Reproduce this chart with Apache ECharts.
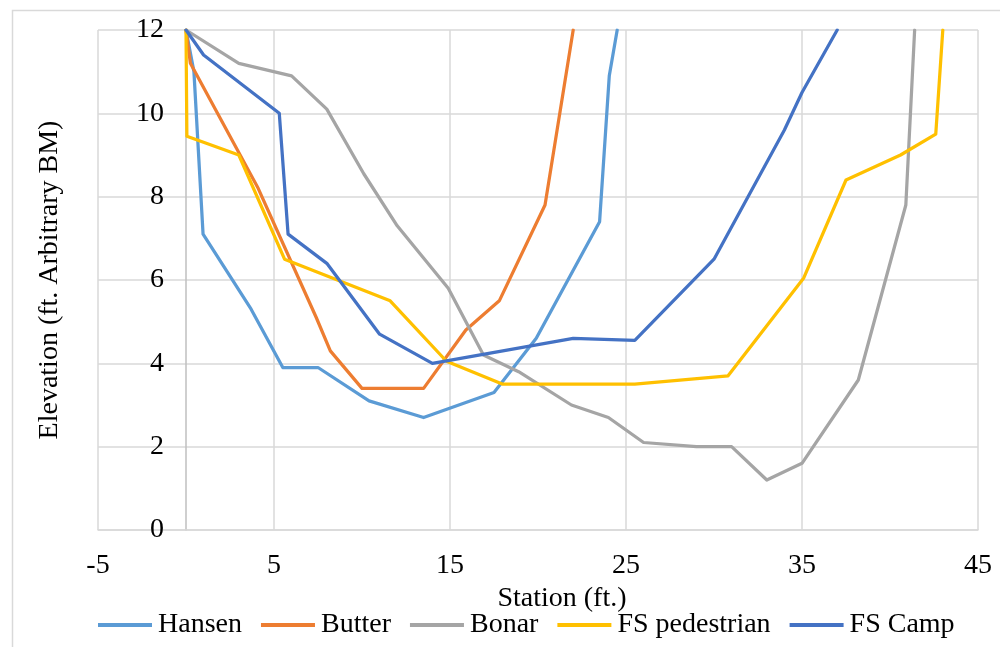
<!DOCTYPE html>
<html>
<head>
<meta charset="utf-8">
<script src="https://cdn.jsdelivr.net/npm/echarts@6/dist/echarts.min.js"></script>
<style>
html,body{margin:0;padding:0;background:#fff;}
#chart{width:1000px;height:647px;}
</style>
</head>
<body>
<div id="chart"></div>
<script>
var seriesNames = ['Hansen', 'Butter', 'Bonar', 'FS pedestrian', 'FS Camp'];
var hansen = [[0,12],[0.45,11.0],[0.97,7.1],[3.7,5.3],[5.5,3.9],[7.5,3.9],[10.4,3.1],[13.5,2.7],[17.5,3.3],[19.9,4.6],[23.5,7.4],[24.05,10.9],[24.5,12]];
var butter = [[0,12],[0.25,11.2],[4.1,8.2],[7.4,5.1],[8.2,4.3],[10,3.4],[13.5,3.4],[15.9,4.8],[17.8,5.5],[20.4,7.8],[22.0,12]];
var bonar = [[0,12],[3.0,11.2],[6.0,10.9],[8.0,10.1],[10.1,8.55],[12.0,7.3],[14.9,5.8],[16.9,4.2],[18.9,3.8],[21.9,3.0],[24.0,2.7],[26.0,2.1],[29.0,2.0],[31.0,2.0],[33.0,1.2],[35.0,1.6],[38.2,3.6],[40.9,7.8],[41.4,12]];
var fsPedestrian = [[0,12],[0.05,9.45],[3.0,9.0],[5.6,6.5],[11.6,5.5],[14.8,4.05],[18.0,3.5],[25.5,3.5],[30.8,3.7],[35.1,6.05],[37.5,8.4],[40.6,9.0],[42.6,9.5],[43.0,12]];
var fsCamp = [[0,12],[1.0,11.4],[5.3,10.0],[5.8,7.1],[8.0,6.4],[11.0,4.7],[14.0,4.0],[22.0,4.6],[25.5,4.55],[30.0,6.5],[34.0,9.6],[35.0,10.5],[37.0,12]];
var seriesData = [hansen, butter, bonar, fsPedestrian, fsCamp];
var colors = ['#5B9BD5', '#ED7D31', '#A5A5A5', '#FFC000', '#4472C4'];
var xAxisTitle = 'Station (ft.)';
var yAxisTitle = 'Elevation (ft. Arbitrary BM)';

var font = '"Liberation Serif", "Times New Roman", serif';
var fs = 28;
var chart = echarts.init(document.getElementById('chart'), null, {renderer: 'canvas'});
var option = {
  animation: false,
  backgroundColor: '#fff',
  color: colors,
  graphic: [{
    type: 'rect', left: 10, top: 8, silent: true,
    shape: {width: 1000, height: 700},
    style: {fill: 'none', stroke: '#D9D9D9', lineWidth: 1.5}
  }],
  grid: {left: 98, right: 22, top: 30, bottom: 117, containLabel: false, outerBoundsMode: 'none'},
  legend: {
    left: 98, top: 611, padding: 0,
    data: seriesNames,
    icon: 'rect', itemWidth: 54, itemHeight: 4, itemGap: 19,
    textStyle: {fontFamily: font, fontSize: fs, color: '#000', padding: [0, 0, 0, 1]}
  },
  xAxis: {
    type: 'value', min: -5, max: 45, interval: 10,
    name: xAxisTitle, nameLocation: 'middle', nameGap: 50,
    nameTextStyle: {fontFamily: font, fontSize: fs, color: '#000', padding: [0, 0, 0, 48]},
    axisLine: {show: true, onZero: false, lineStyle: {color: '#D9D9D9', width: 1.5}},
    axisTick: {show: false},
    axisLabel: {fontFamily: font, fontSize: fs, color: '#000', margin: 22},
    splitLine: {show: true, lineStyle: {color: '#D9D9D9', width: 1.5}}
  },
  yAxis: {
    type: 'value', min: 0, max: 12, interval: 2,
    name: yAxisTitle, nameLocation: 'middle', nameGap: 34,
    nameTextStyle: {fontFamily: font, fontSize: fs, color: '#000'},
    axisLine: {show: true, onZero: true, lineStyle: {color: '#BFBFBF', width: 1.5}},
    axisTick: {show: false},
    axisLabel: {fontFamily: font, fontSize: fs, color: '#000', margin: -66},
    splitLine: {show: true, lineStyle: {color: '#D9D9D9', width: 1.5}}
  },
  series: seriesNames.map(function (n, i) {
    return {
      name: n, type: 'line', data: seriesData[i],
      symbol: 'none', showSymbol: false, clip: true,
      lineStyle: {width: 3.25, color: colors[i], cap: 'round', join: 'round'},
      itemStyle: {color: colors[i]}
    };
  })
};
chart.setOption(option);
</script>
</body>
</html>
